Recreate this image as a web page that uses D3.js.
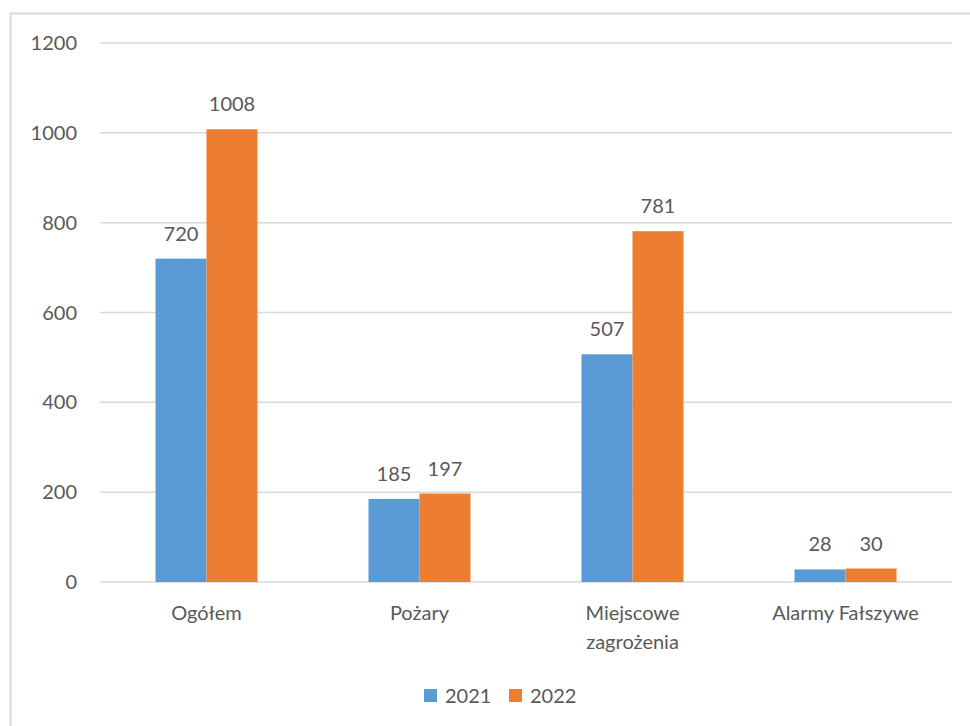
<!DOCTYPE html>
<html>
<head>
<meta charset="utf-8">
<script src="https://cdn.jsdelivr.net/npm/d3@7"></script>
<style>
  body { margin: 0; background: #fff; }
  text { font-family: Lato, "Open Sans", sans-serif; fill: #595959; }
</style>
</head>
<body>
<div id="chart"></div>
<script>
const categories = [["Ogółem"], ["Pożary"], ["Miejscowe", "zagrożenia"], ["Alarmy Fałszywe"]]
const seriesNames = ["2021", "2022"]
const values2021 = [720, 185, 507, 28]
const values2022 = [1008, 197, 781, 30]
const yTicks = [0, 200, 400, 600, 800, 1000, 1200]

const colors = ["#5B9BD5", "#ED7D31"]
const width = 970, height = 726
const plotLeft = 100, plotRight = 952, plotTop = 43, plotBottom = 582

const svg = d3.select("#chart").append("svg")
  .attr("width", width)
  .attr("height", height)

// chart frame
svg.append("rect")
  .attr("x", 10.5).attr("y", 13.5)
  .attr("width", 980).attr("height", 760)
  .attr("fill", "none")
  .attr("stroke", "#d9d9d9")
  .attr("stroke-width", 2)

const x = d3.scaleBand().domain(d3.range(categories.length)).range([plotLeft, plotRight])
const y = d3.scaleLinear().domain([0, 1200]).range([plotBottom, plotTop])
const barW = 51

// gridlines
svg.append("g")
  .selectAll("line")
  .data(yTicks)
  .join("line")
  .attr("x1", plotLeft).attr("x2", plotRight)
  .attr("y1", d => y(d)).attr("y2", d => y(d))
  .attr("stroke", "#d9d9d9")
  .attr("stroke-width", 1.5)

svg.append("g")
  .selectAll("text")
  .data(yTicks)
  .join("text")
  .attr("x", 77)
  .attr("y", d => y(d))
  .attr("dy", "0.35em")
  .attr("text-anchor", "end")
  .attr("font-size", 20)
  .text(d => d)

const series = [values2021, values2022]
series.forEach((vals, s) => {
  const g = svg.append("g")
  const bx = i => x(i) + x.bandwidth() / 2 + (s === 0 ? -barW : 0)
  g.selectAll("rect")
    .data(vals)
    .join("rect")
    .attr("x", (d, i) => bx(i))
    .attr("y", d => y(d))
    .attr("width", barW)
    .attr("height", d => y(0) - y(d))
    .attr("fill", colors[s])
  g.selectAll("text")
    .data(vals)
    .join("text")
    .attr("x", (d, i) => bx(i) + barW / 2)
    .attr("y", d => y(d) - 18)
    .attr("text-anchor", "middle")
    .attr("font-size", 20)
    .text(d => d)
})

// category labels
const catLabel = svg.append("g")
  .selectAll("text")
  .data(categories)
  .join("text")
  .attr("text-anchor", "middle")
  .attr("font-size", 20)
  .attr("x", (d, i) => x(i) + x.bandwidth() / 2)
  .attr("y", 620)
catLabel.selectAll("tspan")
  .data(d => d)
  .join("tspan")
  .attr("x", function () { return this.parentNode.getAttribute("x") })
  .attr("dy", (d, i) => i === 0 ? 0 : 29)
  .text(d => d)

// legend
const legendX = [424, 509]
const legend = svg.append("g")
  .selectAll("g")
  .data(seriesNames)
  .join("g")
  .attr("transform", (d, i) => `translate(${legendX[i]},689)`)
legend.append("rect")
  .attr("width", 13).attr("height", 13)
  .attr("fill", (d, i) => colors[i])
legend.append("text")
  .attr("x", 21).attr("y", 6.5)
  .attr("dy", "0.35em")
  .attr("font-size", 20)
  .text(d => d)
</script>
</body>
</html>
